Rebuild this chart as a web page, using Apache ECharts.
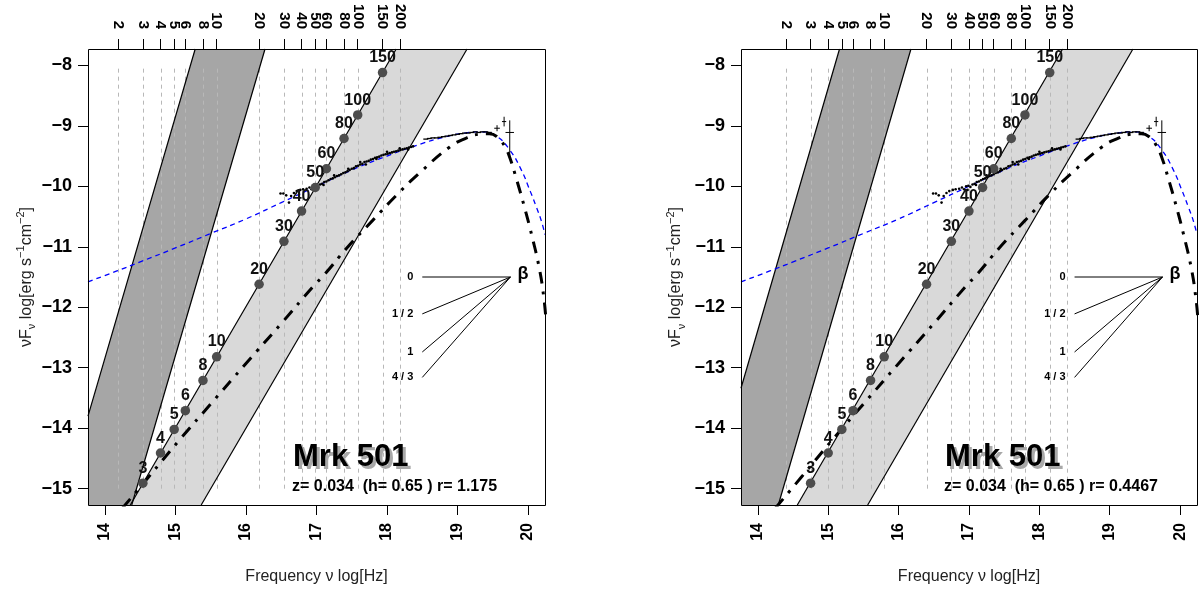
<!DOCTYPE html>
<html><head><meta charset="utf-8">
<script src="https://cdn.jsdelivr.net/npm/echarts@6/dist/echarts.min.js"></script>
<style>html,body{margin:0;padding:0;background:#fff}#c{width:1202px;height:592px}</style>
</head><body><div id="c"></div><script>
// ---------- data ----------
const gammaTicks = [2,3,4,5,6,8,10,20,30,40,50,60,80,100,150,200];
const gammaMarked = [3,4,5,6,8,10,20,30,40,50,60,80,100,150];
const markerY = [-14.91,-14.41,-14.02,-13.71,-13.21,-12.82,-11.62,-10.91,-10.41,-10.02,-9.71,-9.21,-8.82,-8.12];
const logNuAtGamma10 = [15.584, 15.795];          // top-axis position of gamma = 10, per panel
const xTicks = [14,15,16,17,18,19,20];
const yTicks = [-15,-14,-13,-12,-11,-10,-9,-8];
const panelInfo = ['z= 0.034  (h= 0.65 ) r= 1.175', 'z= 0.034  (h= 0.65 ) r= 0.4467'];
const sourceName = 'Mrk 501';

const darkBand = [
  [[13.76,-13.80],[15.28,-7.73],[16.27,-7.73],[14.38,-15.27],[13.76,-15.27]],
  [[13.76,-13.34],[15.16,-7.73],[16.175,-7.73],[14.29,-15.27],[13.76,-15.27]]
];
const lightBand = [
  [[14.36,-15.27],[18.13,-7.73],[19.135,-7.73],[15.365,-15.27]],
  [[14.56,-15.27],[18.33,-7.73],[19.33,-7.73],[15.56,-15.27]]
];
const bandEdges = [
  [[13.76,-13.80,15.28,-7.73],[16.27,-7.73,14.38,-15.27],[14.36,-15.27,18.13,-7.73],[15.365,-15.27,19.135,-7.73]],
  [[13.76,-13.34,15.16,-7.73],[16.175,-7.73,14.29,-15.27],[14.56,-15.27,18.33,-7.73],[15.56,-15.27,19.33,-7.73]]
];

const blueModel = [[13.76,-11.58],[14.17,-11.40],[14.5,-11.25],[15.0,-11.02],[15.5,-10.78],[16.0,-10.54],[16.5,-10.27],[17.0,-10.0],[17.5,-9.73],[18.0,-9.50],[18.4,-9.33],[18.8,-9.19],[19.1,-9.12],[19.35,-9.10],[19.55,-9.17],[19.74,-9.40],[19.9,-9.72],[20.03,-10.08],[20.12,-10.35],[20.19,-10.58],[20.24,-10.80]];
const dashDotModel = [[14.25,-15.32],[14.61,-14.82],[15.06,-14.19],[15.5,-13.60],[16.0,-12.93],[16.5,-12.27],[16.95,-11.66],[17.12,-11.45],[17.43,-11.02],[17.80,-10.56],[18.14,-10.14],[18.47,-9.77],[18.89,-9.35],[19.13,-9.20],[19.30,-9.14],[19.45,-9.13],[19.58,-9.20],[19.66,-9.32],[19.73,-9.49],[19.84,-9.90],[19.95,-10.35],[20.05,-10.80],[20.16,-11.36],[20.22,-11.81],[20.25,-12.15]];

const sedPoints = [[16.49,-10.12],[16.53,-10.12],[16.57,-10.15],[16.61,-10.27],[16.64,-10.16],[16.68,-10.11],[16.72,-10.08],[16.77,-10.06],[16.81,-10.05],
 [16.86,-10.04],[16.90,-10.02],[16.93,-10.05],[16.96,-10.00],[16.99,-9.99],[17.02,-10.01],[17.05,-9.97],[17.08,-9.96],[17.11,-9.93],[17.14,-9.92],
 [17.17,-9.90],[17.20,-9.88],[17.23,-9.87],[17.26,-9.85],[17.29,-9.83],[17.32,-9.82],[17.35,-9.80],[17.38,-9.78],[17.41,-9.77],[17.44,-9.75],
 [17.47,-9.73],[17.50,-9.71],[17.53,-9.70],[17.56,-9.67],[17.59,-9.66],[17.62,-9.64],[17.65,-9.63],[17.68,-9.60],[17.71,-9.59],[17.74,-9.58],
 [17.77,-9.56],[17.80,-9.55],[17.83,-9.53],[17.86,-9.52],[17.89,-9.51],[17.92,-9.49],[17.95,-9.48],[17.98,-9.47],[18.01,-9.46],[18.04,-9.45],
 [18.07,-9.44],[18.10,-9.43],[18.13,-9.42],[18.16,-9.41],[18.19,-9.40],[18.22,-9.39],[18.25,-9.38],[18.28,-9.37],[18.31,-9.36],[18.34,-9.35],[18.37,-9.34],
 [17.25,-9.82],[17.45,-9.71],[17.62,-9.60],[17.70,-9.64],[17.85,-9.55],[18.00,-9.43],[18.18,-9.37],[18.30,-9.39],[17.10,-9.98],[16.98,-10.06]];
const hardXray = [[18.55,-9.22],[18.60,-9.21],[18.65,-9.20],[18.70,-9.20],[18.75,-9.19],[18.80,-9.18],[18.85,-9.17],[18.90,-9.16],[18.95,-9.15],[19.00,-9.14],
 [19.05,-9.13],[19.10,-9.12],[19.15,-9.12],[19.20,-9.11],[19.25,-9.10],[19.30,-9.11],[19.35,-9.10],[19.40,-9.10],[19.45,-9.11]];
// [x, y, xerr, ylow, yhigh]
const errorPoints = [[19.56,-9.04,0.04,-9.09,-8.99],[19.66,-8.93,0.03,-9.01,-8.85],[19.74,-9.11,0.06,-9.51,-8.91]];

const betaLabels = ['0','1 / 2','1','4 / 3'];
const betaLineEndY = [-11.5,-12.11,-12.74,-13.16];
const betaLineStartX = 18.50;
const betaVertex = [19.75,-11.5];

// ---------- layout ----------
const FONT = 'Liberation Sans, Arial, Helvetica, sans-serif';
const gridBoxes = [{left:88, top:49, width:457, height:456},{left:741, top:49, width:456, height:456}];
const xMin = 13.76, xMax = 20.24, yMin = -15.27, yMax = -7.73;

function gammaPos(p, g){ return logNuAtGamma10[p] + 2*Math.log10(g/10); }

const grid = gridBoxes.map(b => ({left:b.left, top:b.top, width:b.width, height:b.height, show:false}));
const xAxis = [], yAxis = [];
const nameGaps = [42, 54];
for (let p = 0; p < 2; p++) {
  const tp = gammaTicks.map(g => gammaPos(p, g));
  xAxis.push({gridIndex:p, type:'value', min:xMin, max:xMax, position:'bottom',
    axisLine:{show:false}, splitLine:{show:false},
    axisTick:{show:true, length:10, customValues:xTicks, lineStyle:{color:'#000', width:1}},
    axisLabel:{customValues:xTicks, rotate:90, margin:18, color:'#000', fontWeight:'bold', fontSize:16, fontFamily:FONT},
    name:'Frequency ν log[Hz]', nameLocation:'middle', nameGap:64,
    nameTextStyle:{fontSize:16, color:'#222', fontFamily:FONT}});
  xAxis.push({gridIndex:p, type:'value', min:xMin, max:xMax, position:'top',
    axisLine:{show:false}, splitLine:{show:false},
    axisTick:{show:true, length:10, customValues:tp, lineStyle:{color:'#000', width:1}},
    axisLabel:{customValues:tp, rotate:90, margin:20, color:'#000', fontWeight:'bold', fontSize:15, fontFamily:FONT,
      formatter: v => { let bi = 0; tp.forEach((t,i)=>{ if (Math.abs(t-v) < Math.abs(tp[bi]-v)) bi = i; }); return String(gammaTicks[bi]); }}});
  yAxis.push({gridIndex:p, type:'value', min:yMin, max:yMax,
    axisLine:{show:false}, splitLine:{show:false},
    axisTick:{show:true, length:10, customValues:yTicks, lineStyle:{color:'#000', width:1}},
    axisLabel:{customValues:yTicks, margin:16, color:'#000', fontWeight:'bold', fontSize:18, fontFamily:FONT,
      formatter: v => String(v).replace('-', '\u2212')},
    name:'{a|νF}{s|ν}{a| log[erg s}{p|−1}{a|cm}{p|−2}{a|]}', nameLocation:'middle', nameRotate:90, nameGap:nameGaps[p],
    nameTextStyle:{fontFamily:FONT, rich:{
      a:{fontSize:16, color:'#222', fontFamily:FONT, lineHeight:22},
      s:{fontSize:11, color:'#222', fontFamily:FONT, verticalAlign:'bottom'},
      p:{fontSize:11, color:'#222', fontFamily:FONT, verticalAlign:'top'}}}});
}

function panelSeries(p) {
  const base = {xAxisIndex:2*p, yAxisIndex:p, silent:true, animation:false};
  const vPos = gammaTicks.map(g => [gammaPos(p, g), yTicks[0], yTicks[yTicks.length-1]]);
  const mData = gammaMarked.map((g,i) => [gammaPos(p, g), markerY[i], g]);
  const polyItem = (poly, fill) => (params, api) => ({type:'polygon', shape:{points: poly.map(pt => api.coord(pt))}, style:{fill:fill}});
  const segItem = (stroke, w) => (params, api) => {
    const a = api.coord([api.value(0), api.value(1)]), b = api.coord([api.value(2), api.value(3)]);
    return {type:'line', shape:{x1:a[0], y1:a[1], x2:b[0], y2:b[1]}, style:{stroke:stroke, lineWidth:w}};
  };
  const lbl = (extra) => Object.assign({show:true, color:'#000', fontWeight:'bold', fontFamily:FONT, opacity:1}, extra);
  return [
    Object.assign({}, base, {type:'custom', z:1, data:[darkBand[p][0]], renderItem: polyItem(darkBand[p], '#a6a6a6')}),
    Object.assign({}, base, {type:'custom', z:1, data:[lightBand[p][0]], renderItem: polyItem(lightBand[p], '#d9d9d9')}),
    Object.assign({}, base, {type:'custom', z:2, data:vPos, encode:{x:0, y:[1,2]},
      renderItem:(params, api) => { const x = api.value(0); const a = api.coord([x, api.value(1)]), b = api.coord([x, api.value(2)]);
        const xx = Math.round(a[0]) + 0.5;
        return {type:'line', shape:{x1:xx, y1:a[1], x2:xx, y2:b[1]}, style:{stroke:'#b8b8b8', lineWidth:1, lineDash:[4,4]}}; }}),
    Object.assign({}, base, {type:'custom', z:3, data:bandEdges[p], encode:{x:[0,2], y:[1,3]}, renderItem: segItem('#000', 1.2)}),
    Object.assign({}, base, {type:'line', z:4, data:blueModel, showSymbol:false, symbol:'none', smooth:true, clip:true,
      lineStyle:{color:'#0000ff', width:1.3, type:[5,4]}}),
    Object.assign({}, base, {type:'line', z:5, data:dashDotModel, showSymbol:false, symbol:'none', smooth:true, clip:true,
      lineStyle:{color:'#000', width:3, type:[12,8,3,8], cap:'butt'}}),
    Object.assign({}, base, {type:'scatter', z:6, data:sedPoints, symbol:'circle', symbolSize:2.6, itemStyle:{color:'#000', opacity:1}}),
    Object.assign({}, base, {type:'scatter', z:6, data:hardXray, symbol:'rect', symbolSize:[5,1.3], itemStyle:{color:'#000', opacity:1}}),
    Object.assign({}, base, {type:'custom', z:6, data:errorPoints, encode:{x:0, y:[3,4]},
      renderItem:(params, api) => {
        const x = api.value(0), y = api.value(1), dx = api.value(2);
        const l = api.coord([x-dx, y]), r = api.coord([x+dx, y]), lo = api.coord([x, api.value(3)]), hi = api.coord([x, api.value(4)]);
        const st = {stroke:'#000', lineWidth:1};
        return {type:'group', children:[
          {type:'line', shape:{x1:l[0], y1:l[1], x2:r[0], y2:r[1]}, style:st},
          {type:'line', shape:{x1:lo[0], y1:lo[1], x2:hi[0], y2:hi[1]}, style:st}]};
      }}),
    Object.assign({}, base, {type:'scatter', z:7, data:mData, symbol:'circle', symbolSize:9.5,
      itemStyle:{color:'#4d4d4d', opacity:1},
      label:lbl({position:'top', distance:2, formatter: d => String(d.value[2]), color:'#111', fontSize:16})}),
    Object.assign({}, base, {type:'custom', z:7, data:betaLineEndY.map(y => [betaLineStartX, y, betaVertex[0], betaVertex[1]]),
      encode:{x:[0,2], y:[1,3]}, renderItem: segItem('#000', 1)}),
    Object.assign({}, base, {type:'scatter', z:7, data:betaLineEndY.map((y,i) => [betaLineStartX, y, betaLabels[i]]), symbolSize:0,
      itemStyle:{opacity:1},
      label:lbl({position:'left', distance:9, formatter: d => d.value[2], fontSize:11})}),
    Object.assign({}, base, {type:'scatter', z:7, data:[[betaVertex[0], betaVertex[1], 'β']], symbolSize:0,
      itemStyle:{opacity:1},
      label:lbl({position:'right', distance:7, offset:[0,-3], formatter: d => d.value[2], fontSize:18})})
  ];
}

const series = panelSeries(0).concat(panelSeries(1));

const titleX = [293, 945], infoX = [292, 944];
const graphic = [];
for (let p = 0; p < 2; p++) {
  const b = gridBoxes[p];
  graphic.push({type:'rect', z:100, silent:true, shape:{x:b.left+0.5, y:b.top+0.5, width:b.width, height:b.height},
    style:{fill:'none', stroke:'#000', lineWidth:1}});
  graphic.push({type:'text', z:100, silent:true, x:titleX[p]+3, y:457+3, style:{text:sourceName, font:'bold 31px ' + FONT, fill:'#a8a8a8', textAlign:'left', textVerticalAlign:'middle'}});
  graphic.push({type:'text', z:101, silent:true, x:titleX[p], y:457, style:{text:sourceName, font:'bold 31px ' + FONT, fill:'#000', textAlign:'left', textVerticalAlign:'middle'}});
  graphic.push({type:'text', z:101, silent:true, x:infoX[p], y:487, style:{text:panelInfo[p], font:'bold 16px ' + FONT, fill:'#000', textAlign:'left', textVerticalAlign:'middle'}});
}

const chart = echarts.init(document.getElementById('c'), null, {renderer:'canvas', width:1202, height:592});
chart.setOption({animation:false, backgroundColor:'#fff', grid, xAxis, yAxis, series, graphic});
</script></body></html>
